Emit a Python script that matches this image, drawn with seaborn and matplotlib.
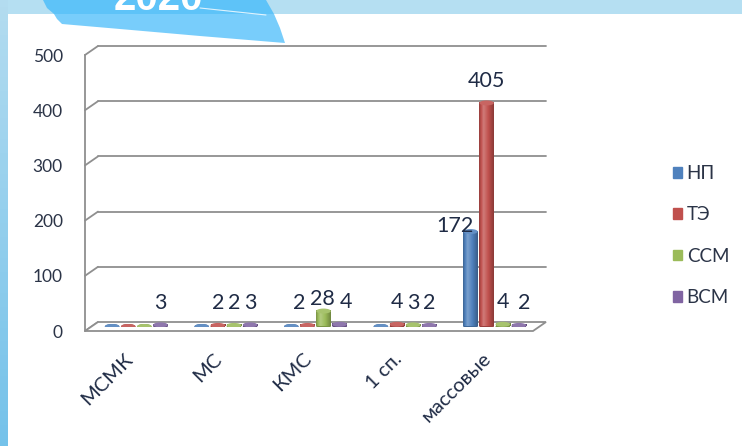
import numpy as np
import pandas as pd
import matplotlib
matplotlib.use("Agg")
import matplotlib.pyplot as plt
import matplotlib.patches as mpatches
import matplotlib.transforms as mtransforms
from matplotlib.colors import to_rgb
import seaborn as sns

# ---- data -------------------------------------------------------------
categories = ["МСМК", "МС", "КМС", "1 сп.", "массовые"]
series_names = ["НП", "ТЭ", "ССМ", "ВСМ"]
np_vals = [0, 0, 0, 0, 172]
te_vals = [0, 2, 2, 4, 405]
ssm_vals = [0, 2, 28, 3, 4]
vsm_vals = [3, 3, 4, 2, 2]
y_ticks = [0, 100, 200, 300, 400, 500]
year_title = "2020"

series_values = [np_vals, te_vals, ssm_vals, vsm_vals]
colors = ["#4f81bd", "#c0504d", "#9bbb59", "#8064a2"]

df = pd.DataFrame(
    [(c, s, v) for s, vals in zip(series_names, series_values)
     for c, v in zip(categories, vals)],
    columns=["Разряд", "Группа", "Количество"],
)

# ---- style --------------------------------------------------------------
sns.set_theme(style="white")
plt.rcParams["font.family"] = ["Lato", "DejaVu Sans"]

W, H = 742, 446
fig = plt.figure(figsize=(W / 100, H / 100), dpi=100)
fig.patch.set_facecolor("white")

GRID = "#8f8f8f"
TEXT = "#1f2b45"

# page background in pixel coordinates
bg = fig.add_axes([0, 0, 1, 1], zorder=-10)
bg.set_axis_off()
bg.add_patch(mpatches.Rectangle((0, 0), W, 14, color="#b5dff2", lw=0))
top_c, bot_c = np.array(to_rgb("#b3dcf0")), np.array(to_rgb("#74c2ea"))
strip = np.linspace(0, 1, 64)[:, None, None] * (bot_c - top_c) + top_c
bg.imshow(strip, extent=(0, 8, H, 0), aspect="auto", zorder=1)

# title ribbon
bg.add_patch(mpatches.Polygon(
    [(43, 0), (266, 0), (274, 14), (54, 14), (47, 8)],
    closed=True, color="#5ec3f8", lw=0, zorder=2))
bg.add_patch(mpatches.Polygon(
    [(54, 14), (274, 14), (280, 28), (285, 43), (200, 36), (120, 29), (62, 24), (57, 19)],
    closed=True, color="#78cdfb", lw=0, zorder=2))
bg.plot([200, 266], [8, 15], color="white", lw=0.8, alpha=0.8, zorder=3)
bg.text(158, 10, year_title, ha="center", va="baseline", color="white",
        fontsize=29, fontweight="bold", family=["Liberation Sans", "DejaVu Sans"], zorder=4)
bg.set_xlim(0, W)
bg.set_ylim(H, 0)

# ---- front plane (axes, floor, walls) --------------------------------------
left_px, right_px, base_px, top_px = 85, 533, 331, 55
ax_w = (right_px - left_px) / W
ax_h = (base_px - top_px) / H
ax = fig.add_axes([left_px / W, 1 - base_px / H, ax_w, ax_h])
ax.patch.set_alpha(0)
ax.set_xlim(-0.5, len(categories) - 0.5)
ax.set_ylim(y_ticks[0], y_ticks[-1])

back_dx, back_dy = 13, 9
mid_dx, mid_dy = 6.5, 4.5

for s in ["top", "right", "bottom"]:
    ax.spines[s].set_visible(False)
ax.spines["left"].set_color(GRID)
ax.spines["left"].set_linewidth(1.3)

ax.set_yticks(y_ticks)
ax.tick_params(axis="y", direction="out", length=5, width=1.3, color=GRID,
               pad=11, labelsize=12.5, labelcolor="#2b3447")
ax.set_xticks(range(len(categories)))
ax.set_xticklabels(categories, rotation=45, ha="right", rotation_mode="anchor",
                   va="center", fontsize=14.5, color=TEXT)
ax.tick_params(axis="x", which="major", length=0, pad=18)
ax.set_xticks(np.arange(-0.5, len(categories), 1.0), minor=True)
ax.tick_params(axis="x", which="minor", direction="out", length=7, width=1.3, color=GRID)
ax.set_xlabel("")
ax.set_ylabel("")

# back wall gridlines
back = mtransforms.offset_copy(ax.transData, fig=fig, x=back_dx, y=back_dy, units="dots")
x0, x1 = ax.get_xlim()
for v in y_ticks[1:]:
    ax.plot([x0, x1], [v, v], color=GRID, lw=1.3, transform=back, clip_on=False, zorder=1)

to_bg = bg.transData.inverted()
def front_px(x, y):
    return to_bg.transform(ax.transData.transform((x, y)))

# side wall connectors
for v in y_ticks:
    fxp, fyp = front_px(x0, v)
    bg.plot([fxp, fxp + back_dx], [fyp, fyp - back_dy], color=GRID, lw=1.3, zorder=5)

# floor
fl = front_px(x0, 0)
fr = front_px(x1, 0)
bg.add_patch(mpatches.Polygon(
    [fl, fr, (fr[0] + back_dx, fr[1] - back_dy), (fl[0] + back_dx, fl[1] - back_dy)],
    closed=True, facecolor="white", edgecolor=GRID, lw=1.3, zorder=5))
bg.set_xlim(0, W)
bg.set_ylim(H, 0)

# ---- bars (mid depth) ----------------------------------------------------
ax_bars = fig.add_axes([(left_px + mid_dx) / W, 1 - (base_px - mid_dy) / H, ax_w, ax_h])
ax_bars.patch.set_alpha(0)
sns.barplot(data=df, x="Разряд", y="Количество", hue="Группа",
            order=categories, hue_order=series_names, palette=colors,
            width=0.72, gap=0.1, saturation=1, linewidth=0,
            legend=False, ax=ax_bars)
ax_bars.set_xlim(-0.5, len(categories) - 0.5)
ax_bars.set_ylim(y_ticks[0], y_ticks[-1])

px_per_unit = ax_h * H / (y_ticks[-1] - y_ticks[0])
cap_h = 5.0 / px_per_unit

# hand-placed value labels (pixel shifts)
label_nudge = {
    ("массовые", "НП"): (-16, -16),
    ("массовые", "ВСМ"): (5, 0),
    ("КМС", "ТЭ"): (-8, 0),
    ("КМС", "ССМ"): (-1, -10),
    ("КМС", "ВСМ"): (6, 0),
}

def shade(rgb, k):
    rgb = np.asarray(rgb)
    return np.clip(rgb * k, 0, 1) if k <= 1 else rgb + (1 - rgb) * (k - 1)

for container, name, vals, col in zip(ax_bars.containers, series_names, series_values, colors):
    base = np.array(to_rgb(col))
    t = np.linspace(0, 1, 48)
    ks = np.interp(t, [0, 0.3, 1], [0.78, 1.25, 0.72])
    grad = np.array([shade(base, k) for k in ks])[None, :, :]
    for rect in container:
        rect.set_facecolor("none")
        xr, wr, hr = rect.get_x(), rect.get_width(), rect.get_height()
        cx = xr + wr / 2
        ci = int(round(cx))
        v = vals[ci]
        ax_bars.add_patch(mpatches.Ellipse((cx, 0), wr, cap_h, color=shade(base, 0.8), lw=0, zorder=1.5))
        if hr > 0:
            ax_bars.imshow(grad, extent=(xr, xr + wr, 0, hr), aspect="auto",
                           interpolation="bilinear", zorder=2)
        ax_bars.add_patch(mpatches.Ellipse((cx, hr), wr, cap_h, color=shade(base, 1.12), lw=0, zorder=3))
        if v:
            ndx, ndy = label_nudge.get((categories[ci], name), (0, 0))
            ax_bars.annotate(str(v), (cx, hr), xytext=(ndx, 16 + ndy),
                             textcoords="offset pixels", ha="center", va="baseline",
                             fontsize=15.5, color=TEXT, zorder=6, annotation_clip=False)

ax_bars.set_xlim(-0.5, len(categories) - 0.5)
ax_bars.set_ylim(y_ticks[0], y_ticks[-1])
ax_bars.set_axis_off()

# ---- legend ------------------------------------------------------------
handles = [mpatches.Patch(color=c, label=n) for c, n in zip(colors, series_names)]
fig.legend(handles=handles, loc="upper left", bbox_to_anchor=(673 / W, 1 - 165 / H),
           frameon=False, handlelength=0.48, handleheight=0.48, handletextpad=0.25,
           labelspacing=1.3, fontsize=13.5, borderpad=0, borderaxespad=0,
           labelcolor="#2b3447")

fig.savefig("out.png", dpi=100, facecolor="white")
